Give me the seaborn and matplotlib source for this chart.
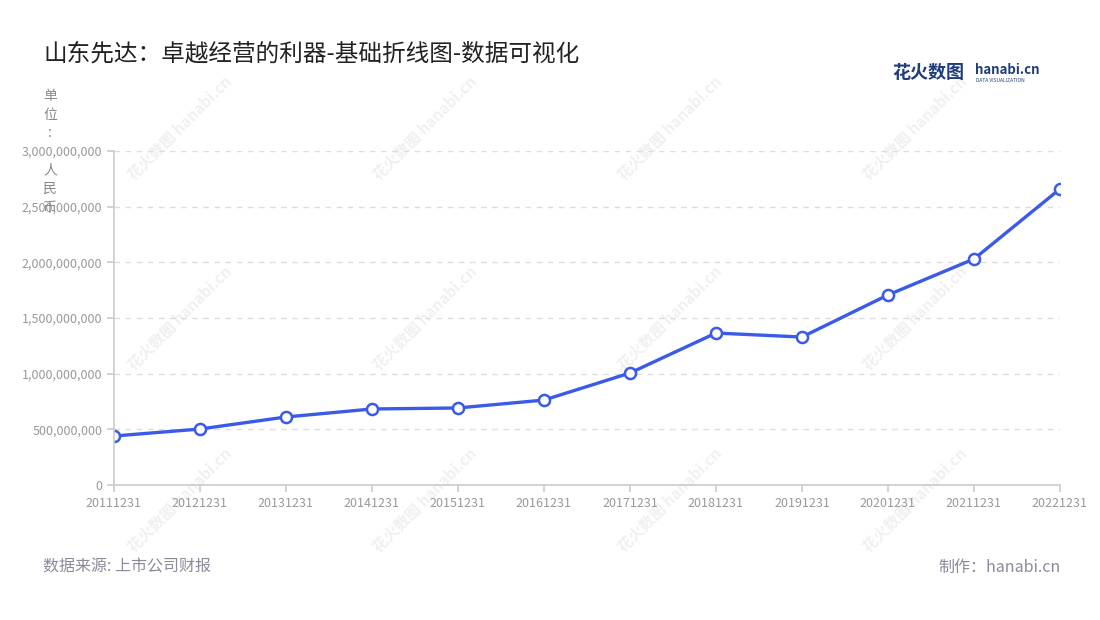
import matplotlib
matplotlib.use('Agg')
import matplotlib.pyplot as plt
import matplotlib.ticker as mticker
import pandas as pd
import seaborn as sns

# 数据：山东先达 利润（人民币）
dates = ['20111231', '20121231', '20131231', '20141231', '20151231', '20161231',
         '20171231', '20181231', '20191231', '20201231', '20211231', '20221231']
profit = [440e6, 503e6, 611e6, 683e6, 692e6, 763e6,
          1006e6, 1365e6, 1329e6, 1707e6, 2030e6, 2659e6]
y_ticks = [0, 500e6, 1000e6, 1500e6, 2000e6, 2500e6, 3000e6]

title = '山东先达：卓越经营的利器-基础折线图-数据可视化'
unit = '单位:\n人民币'
source = '数据来源: 上市公司财报'
maker = '制作：hanabi.cn'

sns.set_theme(style='white')
plt.rcParams['font.family'] = ['Noto Sans CJK SC', 'DejaVu Sans']

df = pd.DataFrame({'date': dates, 'profit': profit})

fig = plt.figure(figsize=(11, 6.2), dpi=100)
ax = fig.add_axes([0.1036, 0.2177, 0.86, 0.5388])
ax.patch.set_alpha(0)

# 水印
for wx in [180, 425, 670, 915]:
    for wy in [128, 318, 500]:
        fig.text(wx / 1100, 1 - wy / 620, '花火数图 hanabi.cn', rotation=45,
                 ha='center', va='center', fontsize=11, fontweight='bold',
                 color='#f0f0f0', zorder=-5)

sns.lineplot(data=df, x='date', y='profit', ax=ax, color='#3a5ae8', lw=2.4,
             marker='o', markersize=8, markerfacecolor='white',
             markeredgecolor='#3a5ae8', markeredgewidth=1.8, sort=False)

ax.set_xlim(0, len(dates) - 1)
ax.set_ylim(0, 3000e6)
ax.set_yticks(y_ticks)
ax.yaxis.set_major_formatter(mticker.FuncFormatter(lambda v, p: f'{int(v):,}'))
ax.set_xlabel('')
ax.set_ylabel('')
ax.grid(axis='y', color='#dddddd', linestyle=(0, (4, 4)), lw=1)
ax.grid(axis='x', visible=False)
for s in ['top', 'right']:
    ax.spines[s].set_visible(False)
for s in ['left', 'bottom']:
    ax.spines[s].set_color('#cccccc')
    ax.spines[s].set_linewidth(1.2)
ax.tick_params(axis='both', colors='#cccccc', labelcolor='#999999', labelsize=9,
               length=5, width=1.2, direction='out', left=True, bottom=True)

# 纵向单位，逐字竖排（中间空一行让出刻度标签）
row = 0
for ch in unit:
    if ch != '\n':
        fig.text(50 / 1100, 1 - (96 + row * 18.6) / 620, ch, ha='center',
                 va='center', fontsize=10, color='#888888')
    row += 1

fig.text(43 / 1100, 1 - 54 / 620, title, fontsize=17, color='#222222', va='center')
fig.text(43 / 1100, 1 - 567 / 620, source, fontsize=11.5, color='#8a8a9a', va='center')
fig.text(1061 / 1100, 1 - 567 / 620, maker, fontsize=11.5, color='#8a8a9a',
         va='center', ha='right')

# 标志
fig.text(892 / 1100, 1 - 73 / 620, '花火数图', fontsize=13, fontweight='bold',
         color='#1f3d7a', va='center')
fig.text(975 / 1100, 1 - 70 / 620, 'hanabi.cn', fontsize=9.5, fontweight='bold',
         color='#1f3d7a', va='center')
fig.text(976 / 1100, 1 - 80 / 620, 'DATA VISUALIZATION', fontsize=3.5,
         color='#1f3d7a', va='center')

fig.savefig('out.png', dpi=100, facecolor='white')
